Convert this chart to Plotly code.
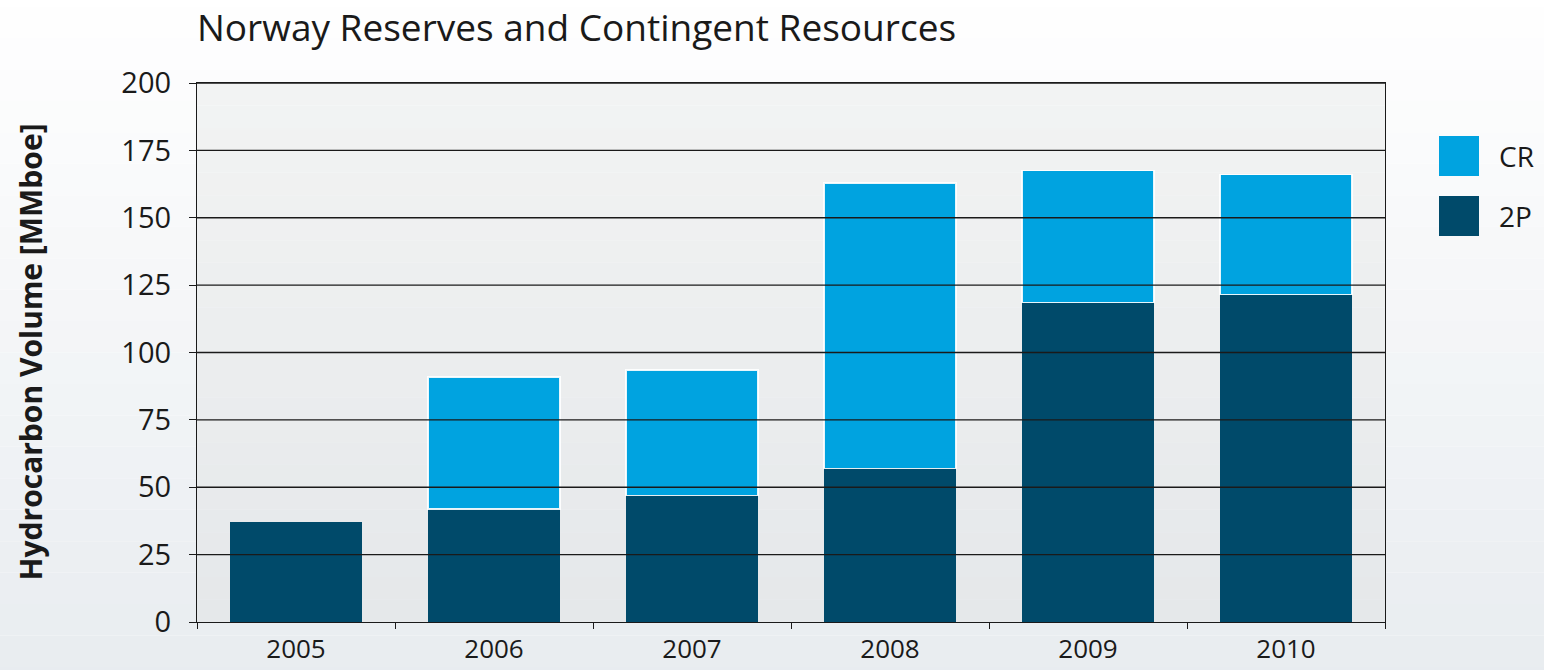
import plotly.graph_objects as go

# Norway reserves (2P) and contingent resources (CR), MMboe
years = ["2005", "2006", "2007", "2008", "2009", "2010"]
reserves_2p = [37, 42, 47, 57, 118.5, 121.5]
contingent_cr = [None, 49, 46.5, 106, 49, 44.5]
y_ticks = [0, 25, 50, 75, 100, 125, 150, 175, 200]

COLOR_2P = "#004A6A"
COLOR_CR = "#00A3E0"
FONT = "Open Sans"
INK = "#1a1a1a"

fig = go.Figure()
fig.add_trace(go.Bar(
    x=years, y=reserves_2p, name="2P",
    marker=dict(color=COLOR_2P, line=dict(width=0)),
    showlegend=False,
))
fig.add_trace(go.Bar(
    x=years, y=contingent_cr, name="CR",
    marker=dict(color=COLOR_CR, line=dict(color="rgba(255,255,255,0.9)", width=1.6)),
    showlegend=False,
))

shapes = []
# soft vertical gradient behind the page
n_bands = 24
for i in range(n_bands):
    t = i / (n_bands - 1)
    r = round(255 - t * 24)
    g = round(255 - t * 20)
    b = round(255 - t * 16)
    shapes.append(dict(
        type="rect", xref="paper", yref="paper",
        x0=-0.2, x1=1.2, y0=1.2 - (i + 1) * 1.4 / n_bands, y1=1.2 - i * 1.4 / n_bands,
        fillcolor=f"rgb({r},{g},{b})", line=dict(width=0), layer="below",
    ))
# plot-area gradient
for i in range(n_bands):
    t = i / (n_bands - 1)
    r = round(242 - t * 13)
    g = round(243 - t * 11)
    b = round(243 - t * 9)
    shapes.append(dict(
        type="rect", xref="x domain", yref="y domain",
        x0=0, x1=1, y0=1 - (i + 1) / n_bands, y1=1 - i / n_bands,
        fillcolor=f"rgb({r},{g},{b})", line=dict(width=0), layer="below",
    ))
# horizontal grid lines drawn over the bars
for v in y_ticks[1:]:
    shapes.append(dict(
        type="line", xref="x domain", yref="y",
        x0=0, x1=1, y0=v, y1=v,
        line=dict(color=INK, width=1.3), layer="above",
    ))

# legend: square swatches with labels
legend_items = [("CR", COLOR_CR), ("2P", COLOR_2P)]
annotations = []
for k, (label, col) in enumerate(legend_items):
    y_top = 1 - (136 - 83) / 539 - k * 60 / 539
    shapes.append(dict(
        type="rect", xref="paper", yref="paper",
        x0=1 + (1439 - 1385) / 1188, x1=1 + (1479 - 1385) / 1188,
        y0=y_top - 40 / 539, y1=y_top,
        fillcolor=col, line=dict(width=0),
    ))
    annotations.append(dict(
        text=label, xref="paper", yref="paper",
        x=1 + (1497 - 1385) / 1188, y=y_top - 20 / 539,
        xanchor="left", yanchor="middle", showarrow=False,
        font=dict(family=FONT, size=28, color=INK),
    ))

annotations.append(dict(
    text="<b>Hydrocarbon Volume [MMboe]</b>",
    xref="paper", yref="paper", x=0, y=0.5,
    xshift=-167, xanchor="center", yanchor="middle",
    textangle=-90, showarrow=False,
    font=dict(family=FONT, size=30, color=INK),
))

fig.update_layout(
    width=1544, height=670,
    margin=dict(l=197, r=159, t=83, b=48, autoexpand=False),
    barmode="stack", bargap=0.333,
    paper_bgcolor="white", plot_bgcolor="rgba(0,0,0,0)",
    title=dict(
        text="Norway Reserves and Contingent Resources",
        xref="paper", x=0, xanchor="left",
        yref="container", y=1 - 28 / 670, yanchor="middle",
        font=dict(family=FONT, size=37, color=INK),
    ),
    font=dict(family=FONT, color=INK),
    shapes=shapes, annotations=annotations,
    xaxis=dict(
        type="category", tickson="boundaries", automargin=False,
        ticks="outside", ticklen=6, tickcolor=INK, tickwidth=1.3,
        showline=True, linecolor=INK, linewidth=1.3, mirror=True,
        showgrid=False, tickfont=dict(family=FONT, size=26),
        ticklabelstandoff=4,
    ),
    yaxis=dict(
        range=[0, 200], tickvals=y_ticks, automargin=False,
        ticks="outside", ticklen=7, tickcolor=INK, tickwidth=1.3,
        showline=True, linecolor=INK, linewidth=1.3, mirror=True,
        showgrid=False, zeroline=False, tickfont=dict(family=FONT, size=29),
        ticklabelstandoff=12,
    ),
)

fig.write_html("out.html")
